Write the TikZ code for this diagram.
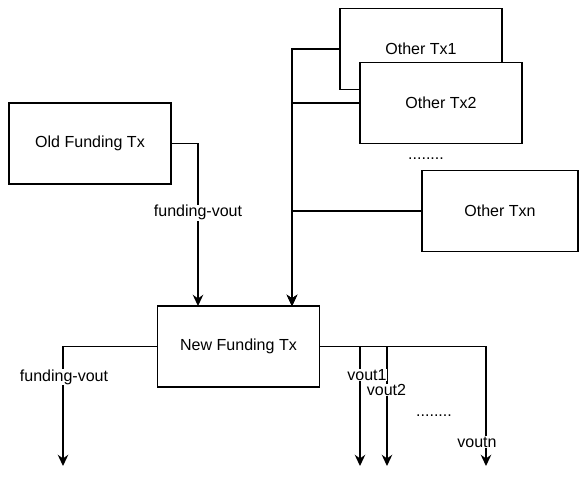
\documentclass[tikz,border=0pt]{standalone}
\usepackage{fontspec}
\setmainfont{Liberation Sans}
\usetikzlibrary{arrows.meta}
\begin{document}
\begin{tikzpicture}[x=0.025cm, y=-0.025cm,
        font=\fontsize{11.4}{13.7}\selectfont,
        caja/.style={draw, line width=0.9pt, fill=white, inner sep=0pt,
            minimum width=4.05cm, minimum height=2.03cm},
        flecha/.style={line width=0.9pt, -{Stealth[length=8pt, width=7.5pt]}},
        etiqueta/.style={fill=white, inner sep=0.5pt}]
    \useasboundingbox (0,0) rectangle (579,494);

    % Transacciones de entrada
    \node[caja] (old) at (90,143.5) {Old Funding Tx};
    \node[caja] (tx1) at (421,49) {Other Tx1};
    \node[caja] (tx2) at (441,103) {Other Tx2};
    \node[caja, minimum width=3.9cm] (txn) at (500,211) {Other Txn};
    \node (puntosA) at (426,159) {........};

    % Nueva transaccion
    \node[caja] (new) at (238.5,346.5) {New Funding Tx};

    % Entradas de la nueva transaccion
    \coordinate (in1) at (198,306);
    \coordinate (in2) at (292,306);
    \draw[flecha] (old.east) -| (in1)
        node[etiqueta, pos=0.713] {funding-vout};
    \draw[flecha] (tx1.west) -| (in2);
    \draw[flecha] (tx2.west) -| (in2);
    \draw[flecha] (txn.west) -| (in2);

    % Salidas
    \coordinate (out0) at (63,466);
    \coordinate (out1) at (360,466);
    \coordinate (out2) at (387,466);
    \coordinate (outn) at (486,466);
    \draw[flecha] (new.west) -| (out0);
    \draw[flecha] (new.east) -| (out1);
    \draw[flecha] (new.east) -| (out2);
    \draw[flecha] (new.east) -| (outn);

    % Etiquetas de las salidas
    \node[etiqueta] (lab0) at (64,377) {funding-vout};
    \node[etiqueta] (lab1) at (367,375) {vout1};
    \node[etiqueta] (lab2) at (386.5,390) {vout2};
    \node[etiqueta] (labn) at (477,442) {voutn};
    \node (puntosB) at (434,416) {........};
\end{tikzpicture}
\end{document}
